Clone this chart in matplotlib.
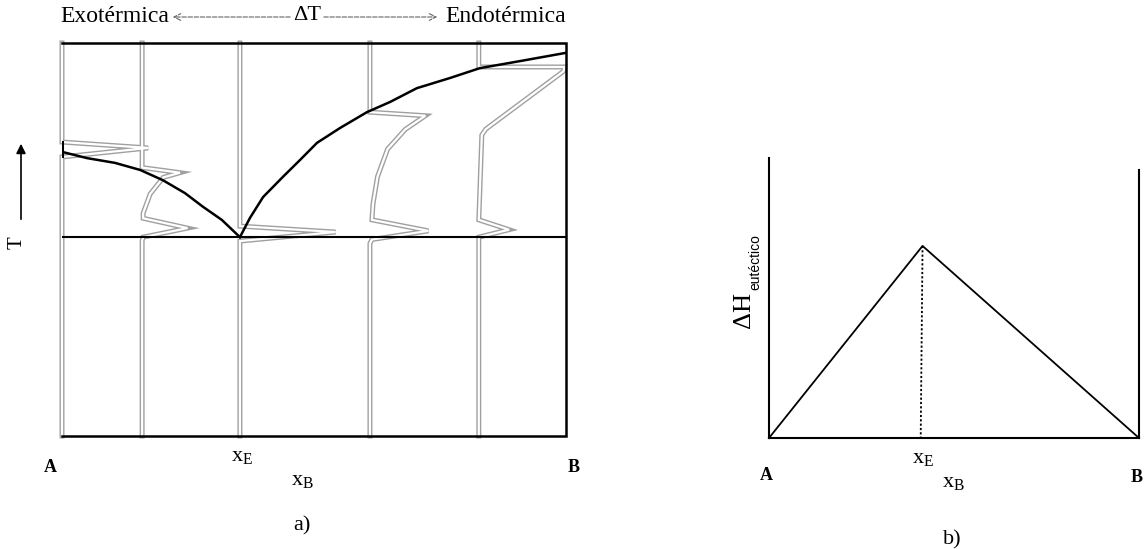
import matplotlib
matplotlib.use("Agg")
import matplotlib.pyplot as plt
from matplotlib.patches import FancyArrowPatch

plt.rcParams["font.family"] = ["Liberation Serif", "DejaVu Serif"]
plt.rcParams["mathtext.fontset"] = "stix"

W, H = 1144, 549

# ---- panel a) : DTA traces over the eutectic phase diagram ----
t_eut = 0.506

liq_left_x = [0.0, 0.050, 0.105, 0.155, 0.200, 0.244, 0.280, 0.317, 0.353]
liq_left_t = [0.723, 0.707, 0.695, 0.677, 0.651, 0.618, 0.583, 0.550, 0.506]

liq_right_x = [0.353, 0.373, 0.399, 0.438, 0.472, 0.506, 0.552, 0.605,
               0.651, 0.704, 0.770, 0.829, 0.909, 1.0]
liq_right_t = [0.506, 0.555, 0.608, 0.659, 0.702, 0.746, 0.784, 0.824,
               0.850, 0.885, 0.911, 0.936, 0.954, 0.975]

# composition of each trace and its (offset, T) path
trace_x0 = [0.0, 0.159, 0.353, 0.611, 0.827]
trace_dx = [
    [0, 0, 0.171, 0, 0],
    [0, 0, 0.075, 0.042, 0.016, 0.002, 0.002, 0.090, 0.002, 0, 0],
    [0, 0, 0.19, 0, 0],
    [0, 0, 0.110, 0.07, 0.035, 0.015, 0.006, 0.004, 0.116, 0.004, 0, 0],
    [0, 0, 0.170, 0.168, 0.014, 0.006, 0.0, 0.060, 0.0, 0, 0],
]
trace_t = [
    [1.0, 0.748, 0.733, 0.710, 0.0],
    [1.0, 0.683, 0.670, 0.658, 0.616, 0.567, 0.554, 0.529, 0.506, 0.497, 0.0],
    [1.0, 0.534, 0.519, 0.496, 0.0],
    [1.0, 0.824, 0.815, 0.78, 0.73, 0.66, 0.59, 0.55, 0.522, 0.500, 0.490, 0.0],
    [1.0, 0.939, 0.939, 0.928, 0.781, 0.766, 0.550, 0.525, 0.506, 0.495, 0.0],
]

# ---- panel b) : eutectic enthalpy vs composition ----
tri_x = [0.0, 0.415, 1.0]
tri_h = [0.0, 0.686, 0.0]


def fig_xy(px, py):
    return px / W, 1 - py / H


fig = plt.figure(figsize=(W / 100, H / 100), dpi=100)
fig.patch.set_facecolor("white")

ax = fig.add_axes([62 / W, 1 - 436 / H, 504 / W, 393 / H])
ax.set_xlim(0, 1)
ax.set_ylim(0, 1)
ax.axis("off")

for x0, dxs, ts in zip(trace_x0, trace_dx, trace_t):
    xs = [x0 + d for d in dxs]
    ax.plot(xs, ts, color="#a0a0a0", lw=3.6, solid_joinstyle="miter",
            clip_on=False, zorder=2)
    ax.plot(xs, ts, color="white", lw=1.6, solid_joinstyle="miter",
            clip_on=False, zorder=3)

# frame (left side is the trace for pure A)
ax.plot([0, 1, 1, 0], [1, 1, 0, 0], color="black", lw=1.8,
        solid_joinstyle="miter", clip_on=False, zorder=4)
ax.plot([0, 0], [0.712, 0.748], color="black", lw=2.2, zorder=4)

ax.plot([0, 1], [t_eut, t_eut], color="black", lw=1.5, zorder=4)
ax.plot(liq_left_x, liq_left_t, color="black", lw=1.8, zorder=5)
ax.plot(liq_right_x, liq_right_t, color="black", lw=1.8, zorder=5)

# header of panel a
fig.text(*fig_xy(60, 17), "Exotérmica", fontsize=17, ha="left", va="center")
fig.text(*fig_xy(307, 16), "ΔT", fontsize=16, ha="center", va="center")
fig.text(*fig_xy(566, 17), "Endotérmica", fontsize=17, ha="right", va="center")
arrow_kw = dict(arrowstyle="->", color="#666666", lw=0.8, ls=(0, (4, 1.5)),
                mutation_scale=12)
fig.add_artist(FancyArrowPatch(fig_xy(293, 17), fig_xy(170, 17),
                               transform=fig.transFigure, **arrow_kw))
fig.add_artist(FancyArrowPatch(fig_xy(321, 17), fig_xy(440, 17),
                               transform=fig.transFigure, **arrow_kw))

# T axis with arrow
fig.text(*fig_xy(17, 243), "T", fontsize=15, rotation=90, ha="center", va="center")
fig.add_artist(FancyArrowPatch(fig_xy(21, 222), fig_xy(21, 141),
                               transform=fig.transFigure, arrowstyle="-|>",
                               color="black", lw=1.2, mutation_scale=14))

fig.text(*fig_xy(50, 467), "A", fontsize=13, fontweight="bold", ha="center", va="center")
fig.text(*fig_xy(574, 467), "B", fontsize=13, fontweight="bold", ha="center", va="center")
fig.text(*fig_xy(242, 457), r"$\mathregular{x_E}$", fontsize=16, ha="center", va="center")
fig.text(*fig_xy(302, 481), r"$\mathregular{x_B}$", fontsize=16, ha="center", va="center")
fig.text(*fig_xy(302, 526), "a)", fontsize=16, ha="center", va="center")

# ---- panel b ----
bx = fig.add_axes([769 / W, 1 - 438 / H, 370 / W, 280 / H])
bx.set_xlim(0, 1)
bx.set_ylim(0, 1)
bx.axis("off")
bx.plot([0, 0], [0, 1], color="black", lw=1.5, clip_on=False)
bx.plot([1, 1], [0, 0.957], color="black", lw=1.5, clip_on=False)
bx.plot([0, 1], [0, 0], color="black", lw=1.5, clip_on=False)
bx.plot(tri_x, tri_h, color="black", lw=1.3, clip_on=False)
bx.plot([tri_x[1], tri_x[1] - 0.005], [tri_h[1], 0], color="black", lw=1.3,
        ls=(0, (1.2, 1.2)))

fig.text(*fig_xy(744, 310), "ΔH", fontsize=19, rotation=90, ha="center", va="center")
fig.text(*fig_xy(755, 262), "eutéctico", fontsize=10, family="Liberation Sans",
         rotation=90, ha="center", va="center")
fig.text(*fig_xy(766, 475), "A", fontsize=13, fontweight="bold", ha="center", va="center")
fig.text(*fig_xy(1137, 477), "B", fontsize=13, fontweight="bold", ha="center", va="center")
fig.text(*fig_xy(923, 458), r"$\mathregular{x_E}$", fontsize=16, ha="center", va="center")
fig.text(*fig_xy(953, 482), r"$\mathregular{x_B}$", fontsize=16, ha="center", va="center")
fig.text(*fig_xy(952, 540), "b)", fontsize=16, ha="center", va="center")

fig.savefig("out.png", dpi=100, facecolor="white")
